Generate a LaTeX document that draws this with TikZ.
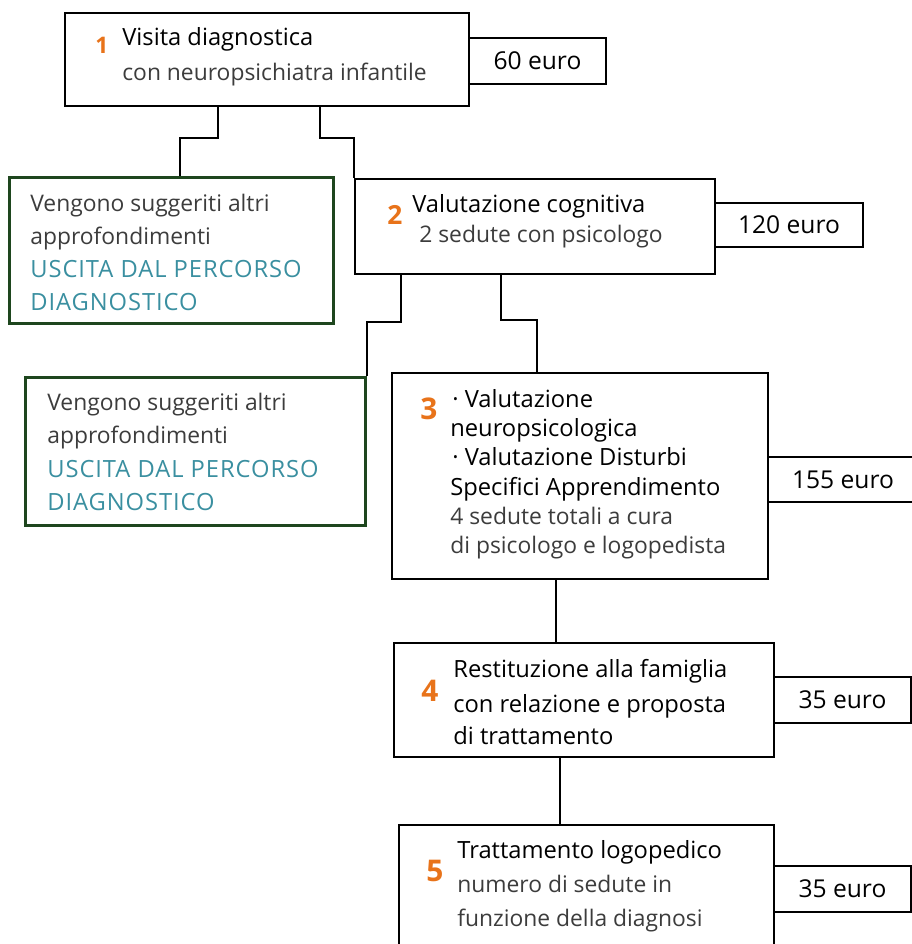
\documentclass[tikz,border=0pt]{standalone}
\usepackage{fontspec}
\setmainfont{Open Sans}
\definecolor{stepnum}{HTML}{E8731A}
\definecolor{exitteal}{HTML}{3A8FA0}
\definecolor{exitgreen}{HTML}{1E461E}
\definecolor{lighttext}{HTML}{3C3C3C}
\newcommand{\pxu}{0.02cm}
\begin{document}
\begin{tikzpicture}[x=0.02cm, y=-0.02cm,
  wh/.style 2 args={minimum width=#1*\pxu, minimum height=#2*\pxu},
  stage/.style={draw, line width=1.1pt, inner sep=0, anchor=north west},
  exitbox/.style={draw=exitgreen, line width=1.7pt, inner sep=0, anchor=north west},
  price/.style={draw, line width=1.1pt, inner sep=0, anchor=north west, font=\fontsize{14}{16}\selectfont},
  wire/.style={line width=1.1pt},
  txt/.style={anchor=base west, inner sep=0, font=\fontsize{13.5}{16}\selectfont},
  lite/.style={txt, text=lighttext, font=\fontsize{13}{16}\selectfont},
  exit/.style={txt, text=exitteal, font=\fontsize{13.5}{16}\selectfont\addfontfeature{LetterSpace=4}},
  num/.style={anchor=base west, inner sep=0, text=stepnum, font=\fontsize{#1}{20}\selectfont\bfseries}
]
\clip (0,0) rectangle (912,944);
% boxes
\node[stage, wh={404}{93}] (box1) at (64,12){};
\node[price, wh={137}{46}] (cost1) at (468,37){60 euro};
\node[exitbox, wh={324}{146}] (exit1) at (8,176){};
\node[stage, wh={360}{95}] (box2) at (354,178){};
\node[price, wh={148}{44}] (cost2) at (714,202){120 euro};
\node[exitbox, wh={340}{148}] (exit2) at (24,376){};
\node[stage, wh={376}{206}] (box3) at (391,372){};
\node[price, wh={150}{45}] (cost3) at (767,456){155 euro};
\node[stage, wh={380}{114}] (box4) at (393,642){};
\node[price, wh={137}{46}] (cost4) at (773,676){35 euro};
\node[stage, wh={375}{130}] (box5) at (398,824){};
\node[price, wh={137}{46}] (cost5) at (773,865){35 euro};
% connectors
\coordinate (k1a) at (218,138);
\coordinate (k1b) at (180,138);
\draw[wire] (box1.south -| k1a) -- (k1a) -- (k1b) -- (exit1.north -| k1b);
\coordinate (k2a) at (320,138);
\draw[wire] (box1.south -| k2a) -- (k2a) -- (k2a -| box2.west) -- (box2.north west);
\coordinate (k3a) at (401,322);
\draw[wire] (box2.south -| k3a) -- (k3a) -- (k3a -| exit2.east) -- (exit2.north east);
\coordinate (k4a) at (501,320);
\coordinate (k4b) at (537,320);
\draw[wire] (box2.south -| k4a) -- (k4a) -- (k4b) -- (box3.north -| k4b);
\coordinate (k5) at (556,610);
\draw[wire] (box3.south -| k5) -- (box4.north -| k5);
\coordinate (k6) at (560,790);
\draw[wire] (box4.south -| k6) -- (box5.north -| k6);
% step 1
\node[num=13] (n1) at (95,53){1};
\node[txt] (t1a) at (122,45){Visita diagnostica};
\node[lite] (t1b) at (122,80){con neuropsichiatra infantile};
% exits
\node[lite] (e1a) at (30,211){Vengono suggeriti altri};
\node[lite] (e1b) at (30,244){approfondimenti};
\node[exit] (e1c) at (30,277){USCITA DAL PERCORSO};
\node[exit] (e1d) at (30,310){DIAGNOSTICO};
\node[lite] (e2a) at (47,410){Vengono suggeriti altri};
\node[lite] (e2b) at (47,443){approfondimenti};
\node[exit] (e2c) at (47,477){USCITA DAL PERCORSO};
\node[exit] (e2d) at (47,510){DIAGNOSTICO};
% step 2
\node[num=15] (n2) at (387,224){2};
\node[txt] (t2a) at (412,212){Valutazione cognitiva};
\node[lite] (t2b) at (419,242){2 sedute con psicologo};
% step 3
\node[num=17] (n3) at (420,419){3};
\node[txt] (t3a) at (452,407){· Valutazione};
\node[txt] (t3b) at (450,436){neuropsicologica};
\node[txt] (t3c) at (452,465){· Valutazione Disturbi};
\node[txt] (t3d) at (450,495){Specifici Apprendimento};
\node[lite] (t3e) at (450,524){4 sedute totali a cura};
\node[lite] (t3f) at (450,553){di psicologo e logopedista};
% step 4
\node[num=17] (n4) at (421,701){4};
\node[txt] (t4a) at (453,677){Restituzione alla famiglia};
\node[txt] (t4b) at (453,712){con relazione e proposta};
\node[txt] (t4c) at (453,744){di trattamento};
% step 5
\node[num=17] (n5) at (426,881){5};
\node[txt] (t5a) at (457,858){Trattamento logopedico};
\node[lite] (t5b) at (457,892){numero di sedute in};
\node[lite] (t5c) at (457,926){funzione della diagnosi};
\end{tikzpicture}
\end{document}
